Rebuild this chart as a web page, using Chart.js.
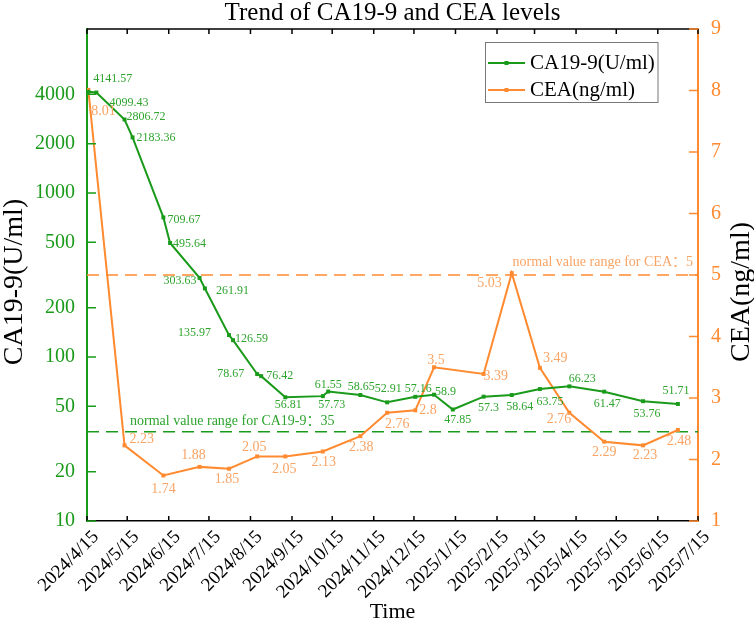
<!DOCTYPE html>
<html>
<head>
<meta charset="utf-8">
<script src="https://cdn.jsdelivr.net/npm/chart.js@4.4.1/dist/chart.umd.min.js"></script>
<style>body{margin:0;background:#fff}</style>
</head>
<body>
<canvas id="chartcanvas" width="754" height="627"></canvas>
<script>
const canvas = document.getElementById('chartcanvas');
const ctx = canvas.getContext('2d');
const serif = '"Liberation Serif", "Times New Roman", "Noto Sans CJK SC", serif';
const green = '#1a9a1a';
const greenText = '#2ea42e';
const orange = '#ff8a30';
const orangeText = '#f9a465';

// x axis tick labels (month marks)
const tickDates = ['2024/4/15', '2024/5/15', '2024/6/15', '2024/7/15', '2024/8/15', '2024/9/15',
  '2024/10/15', '2024/11/15', '2024/12/15', '2025/1/15', '2025/2/15', '2025/3/15',
  '2025/4/15', '2025/5/15', '2025/6/15', '2025/7/15'];

// CA19-9 series
const caDates = ['2024/4/16', '2024/4/22', '2024/5/13', '2024/5/19', '2024/6/11', '2024/6/16',
  '2024/7/8', '2024/7/12', '2024/7/30', '2024/8/2', '2024/8/20', '2024/8/23', '2024/9/10',
  '2024/10/8', '2024/10/12', '2024/11/5', '2024/11/25', '2024/12/16', '2024/12/30',
  '2025/1/13', '2025/2/5', '2025/2/26', '2025/3/19', '2025/4/10', '2025/5/6', '2025/6/4', '2025/6/30'];
const caValues = [4141.57, 4099.43, 2806.72, 2183.36, 709.67, 495.64, 303.63, 261.91, 135.97, 126.59,
  78.67, 76.42, 56.81, 57.73, 61.55, 58.65, 52.91, 57.16, 58.9, 47.85, 57.3, 58.64, 63.75, 66.23,
  61.47, 53.76, 51.71];

// CEA series
const ceaDates = ['2024/4/16', '2024/5/13', '2024/6/11', '2024/7/8', '2024/7/30', '2024/8/20',
  '2024/9/10', '2024/10/8', '2024/11/5', '2024/11/25', '2024/12/16', '2024/12/30', '2025/2/5',
  '2025/2/26', '2025/3/19', '2025/4/10', '2025/5/6', '2025/6/4', '2025/6/30'];
const ceaValues = [8.01, 2.23, 1.74, 1.88, 1.85, 2.05, 2.05, 2.13, 2.38, 2.76, 2.8, 3.5, 3.39, 5.03,
  3.49, 2.76, 2.29, 2.23, 2.48];

const caNormal = 35;
const ceaNormal = 5;
const caTicks = [10, 20, 50, 100, 200, 500, 1000, 2000, 4000];

// where each value label sits relative to its point: [align, dx, dy]
const caLabelPos = [
  ['left', 5, -13], ['left', 13, 10], ['left', 2, -3], ['left', 4, 0], ['left', 4, 2], ['left', 3, 1],
  ['right', -3, 3], ['left', 11, 2], ['right', -18, -2], ['left', 2, -1], ['right', -13, 0], ['left', 5, 0],
  ['center', 3, 8], ['center', 9, 9], ['center', 0, -7], ['center', 1, -8], ['center', 1, -13], ['center', 3, -8],
  ['left', 1, -3], ['center', 5, 10], ['center', 5, 11], ['center', 8, 12], ['center', 10, 13], ['center', 13, -8],
  ['center', 3, 12], ['center', 4, 13], ['center', -2, -13]
];
const ceaLabelPos = [
  ['left', 3, 21], ['left', 5, -6], ['center', 0, 14], ['center', -6, -12], ['center', -2, 11], ['center', -3, -9],
  ['center', -1, 13], ['center', 1, 11], ['center', 1, 11], ['center', 10, 12], ['left', 4, 0], ['center', 2, -7],
  ['left', 0, 2], ['right', -10, 10], ['left', 3, -10], ['right', 2, 7], ['center', 0, 11], ['center', 2, 10], ['center', 1, 11]
];

const start = Date.UTC(2024, 3, 15);
function toDay(s) {
  const p = s.split('/').map(Number);
  return (Date.UTC(p[0], p[1] - 1, p[2]) - start) / 86400000;
}
function setData(dates, values) {
  let data = [];
  for (var i = 0; i < dates.length; i++) {
    data.push({x: toDay(dates[i]), y: values[i]});
  }
  return data;
}

const decor = {
  id: 'decor',
  beforeDatasetsDraw(chart) {
    const c = chart.ctx, a = chart.chartArea;
    const y = chart.scales.y, y2 = chart.scales.y2;
    c.save();
    c.lineWidth = 1.5;
    c.setLineDash([12, 7]);
    let py = y.getPixelForValue(caNormal);
    c.strokeStyle = green;
    c.beginPath(); c.moveTo(a.left, py); c.lineTo(a.right, py); c.stroke();
    let py2 = y2.getPixelForValue(ceaNormal);
    c.strokeStyle = orange;
    c.beginPath(); c.moveTo(a.left, py2); c.lineTo(a.right, py2); c.stroke();
    c.setLineDash([]);
    c.font = '14px ' + serif;
    c.textBaseline = 'middle';
    c.fillStyle = greenText;
    c.textAlign = 'left';
    c.fillText('normal value range for CA19-9：35', a.left + 43, py - 10);
    c.fillStyle = orangeText;
    c.textAlign = 'right';
    c.fillText('normal value range for CEA：5', a.right - 5, py2 - 13);
    c.restore();
  },
  afterDraw(chart) {
    const c = chart.ctx, a = chart.chartArea;
    const x = chart.scales.x, y = chart.scales.y, y2 = chart.scales.y2;
    c.save();
    // top frame and inward ticks
    c.strokeStyle = '#000';
    c.lineWidth = 1.5;
    c.beginPath();
    c.moveTo(a.left, a.top); c.lineTo(a.right, a.top);
    x.ticks.forEach(t => {
      const px = x.getPixelForValue(t.value);
      c.moveTo(px, a.bottom); c.lineTo(px, a.bottom - 5);
      c.moveTo(px, a.top); c.lineTo(px, a.top + 5);
    });
    c.stroke();
    c.strokeStyle = green;
    c.beginPath();
    y.ticks.forEach(t => {
      const p = y.getPixelForValue(t.value);
      c.moveTo(a.left, p); c.lineTo(a.left + 9, p);
    });
    c.stroke();
    c.strokeStyle = orange;
    c.beginPath();
    y2.ticks.forEach(t => {
      const p = y2.getPixelForValue(t.value);
      c.moveTo(a.right, p); c.lineTo(a.right - 9, p);
    });
    c.stroke();

    // value labels
    c.textBaseline = 'middle';
    [[0, caLabelPos, greenText, '12px '], [1, ceaLabelPos, orangeText, '14px ']].forEach(([di, pos, col, fs]) => {
      const meta = chart.getDatasetMeta(di);
      const vals = chart.data.datasets[di].data;
      c.fillStyle = col;
      c.font = fs + serif;
      meta.data.forEach((pt, i) => {
        const p = pos[i];
        c.textAlign = p[0];
        c.fillText(String(vals[i].y), pt.x + p[1], pt.y + p[2]);
      });
    });

    // axis titles
    c.fillStyle = '#000';
    c.font = '28px ' + serif;
    c.textAlign = 'center';
    c.save();
    c.translate(15, 282); c.rotate(-Math.PI / 2);
    c.fillText('CA19-9(U/ml)', 0, 0);
    c.restore();
    c.save();
    c.translate(742, 292); c.rotate(-Math.PI / 2);
    c.fillText('CEA(ng/ml)', 0, 0);
    c.restore();

    // legend
    c.strokeStyle = '#777';
    c.lineWidth = 1;
    c.strokeRect(485.5, 42.5, 172.5, 60);
    chart.data.datasets.forEach((ds, i) => {
      const ly = 63 + i * 27;
      c.strokeStyle = ds.borderColor;
      c.lineWidth = 2;
      c.beginPath(); c.moveTo(488, ly); c.lineTo(525, ly); c.stroke();
      c.fillStyle = ds.borderColor;
      c.fillRect(504.5, ly - 2, 4, 4);
      c.fillStyle = '#000';
      c.font = '21px ' + serif;
      c.textAlign = 'left';
      c.fillText(ds.label, 530, ly);
    });
    c.restore();
  }
};

const lineConfig = {
  type: 'line',
  data: {
    datasets: [{
      label: 'CA19-9(U/ml)',
      data: setData(caDates, caValues),
      yAxisID: 'y',
      borderColor: green,
      backgroundColor: green,
      borderWidth: 2,
      pointStyle: 'rect',
      pointRadius: 2.8,
      pointBorderWidth: 0,
      tension: 0,
    }, {
      label: 'CEA(ng/ml)',
      data: setData(ceaDates, ceaValues),
      yAxisID: 'y2',
      borderColor: orange,
      backgroundColor: orange,
      borderWidth: 2,
      pointStyle: 'rect',
      pointRadius: 2.8,
      pointBorderWidth: 0,
      tension: 0,
    }]
  },
  options: {
    responsive: false,
    animation: false,
    layout: {padding: 0},
    scales: {
      x: {
        type: 'linear',
        min: 0,
        max: toDay(tickDates[tickDates.length - 1]),
        afterBuildTicks: s => { s.ticks = tickDates.map(d => ({value: toDay(d)})); },
        afterFit: s => { s.height = 106; },
        grid: {display: false, drawTicks: false},
        border: {color: '#000', width: 1.5},
        ticks: {
          autoSkip: false,
          minRotation: 45,
          maxRotation: 45,
          padding: 5,
          labelOffset: 9,
          color: '#000',
          font: {family: serif, size: 19},
          callback: (v, i) => tickDates[i],
        },
        title: {
          display: true,
          text: 'Time',
          color: '#000',
          font: {family: serif, size: 22, lineHeight: 1},
          padding: {top: 0, bottom: 4},
        },
      },
      y: {
        type: 'logarithmic',
        position: 'left',
        min: 10,
        max: 10000,
        afterBuildTicks: s => { s.ticks = caTicks.map(v => ({value: v})); },
        afterFit: s => { s.width = 87; },
        grid: {display: false, drawTicks: false},
        border: {color: green, width: 2},
        ticks: {
          padding: 12,
          color: green,
          font: {family: serif, size: 20},
          callback: v => String(v),
        },
      },
      y2: {
        type: 'linear',
        position: 'right',
        min: 1,
        max: 9,
        afterFit: s => { s.width = 56; },
        grid: {display: false, drawTicks: false},
        border: {color: orange, width: 2},
        ticks: {
          stepSize: 1,
          padding: 13,
          color: orange,
          font: {family: serif, size: 20},
        },
      },
    },
    plugins: {
      legend: {display: false},
      tooltip: {enabled: false},
      title: {
        display: true,
        fullSize: false,
        text: 'Trend of CA19-9 and CEA levels',
        color: '#000',
        font: {family: serif, size: 25, weight: 'normal', lineHeight: 0.8},
        padding: {top: 3, bottom: 6},
      },
    },
  },
  plugins: [decor]
};

const lineChart = new Chart(ctx, lineConfig);
</script>
</body>
</html>
